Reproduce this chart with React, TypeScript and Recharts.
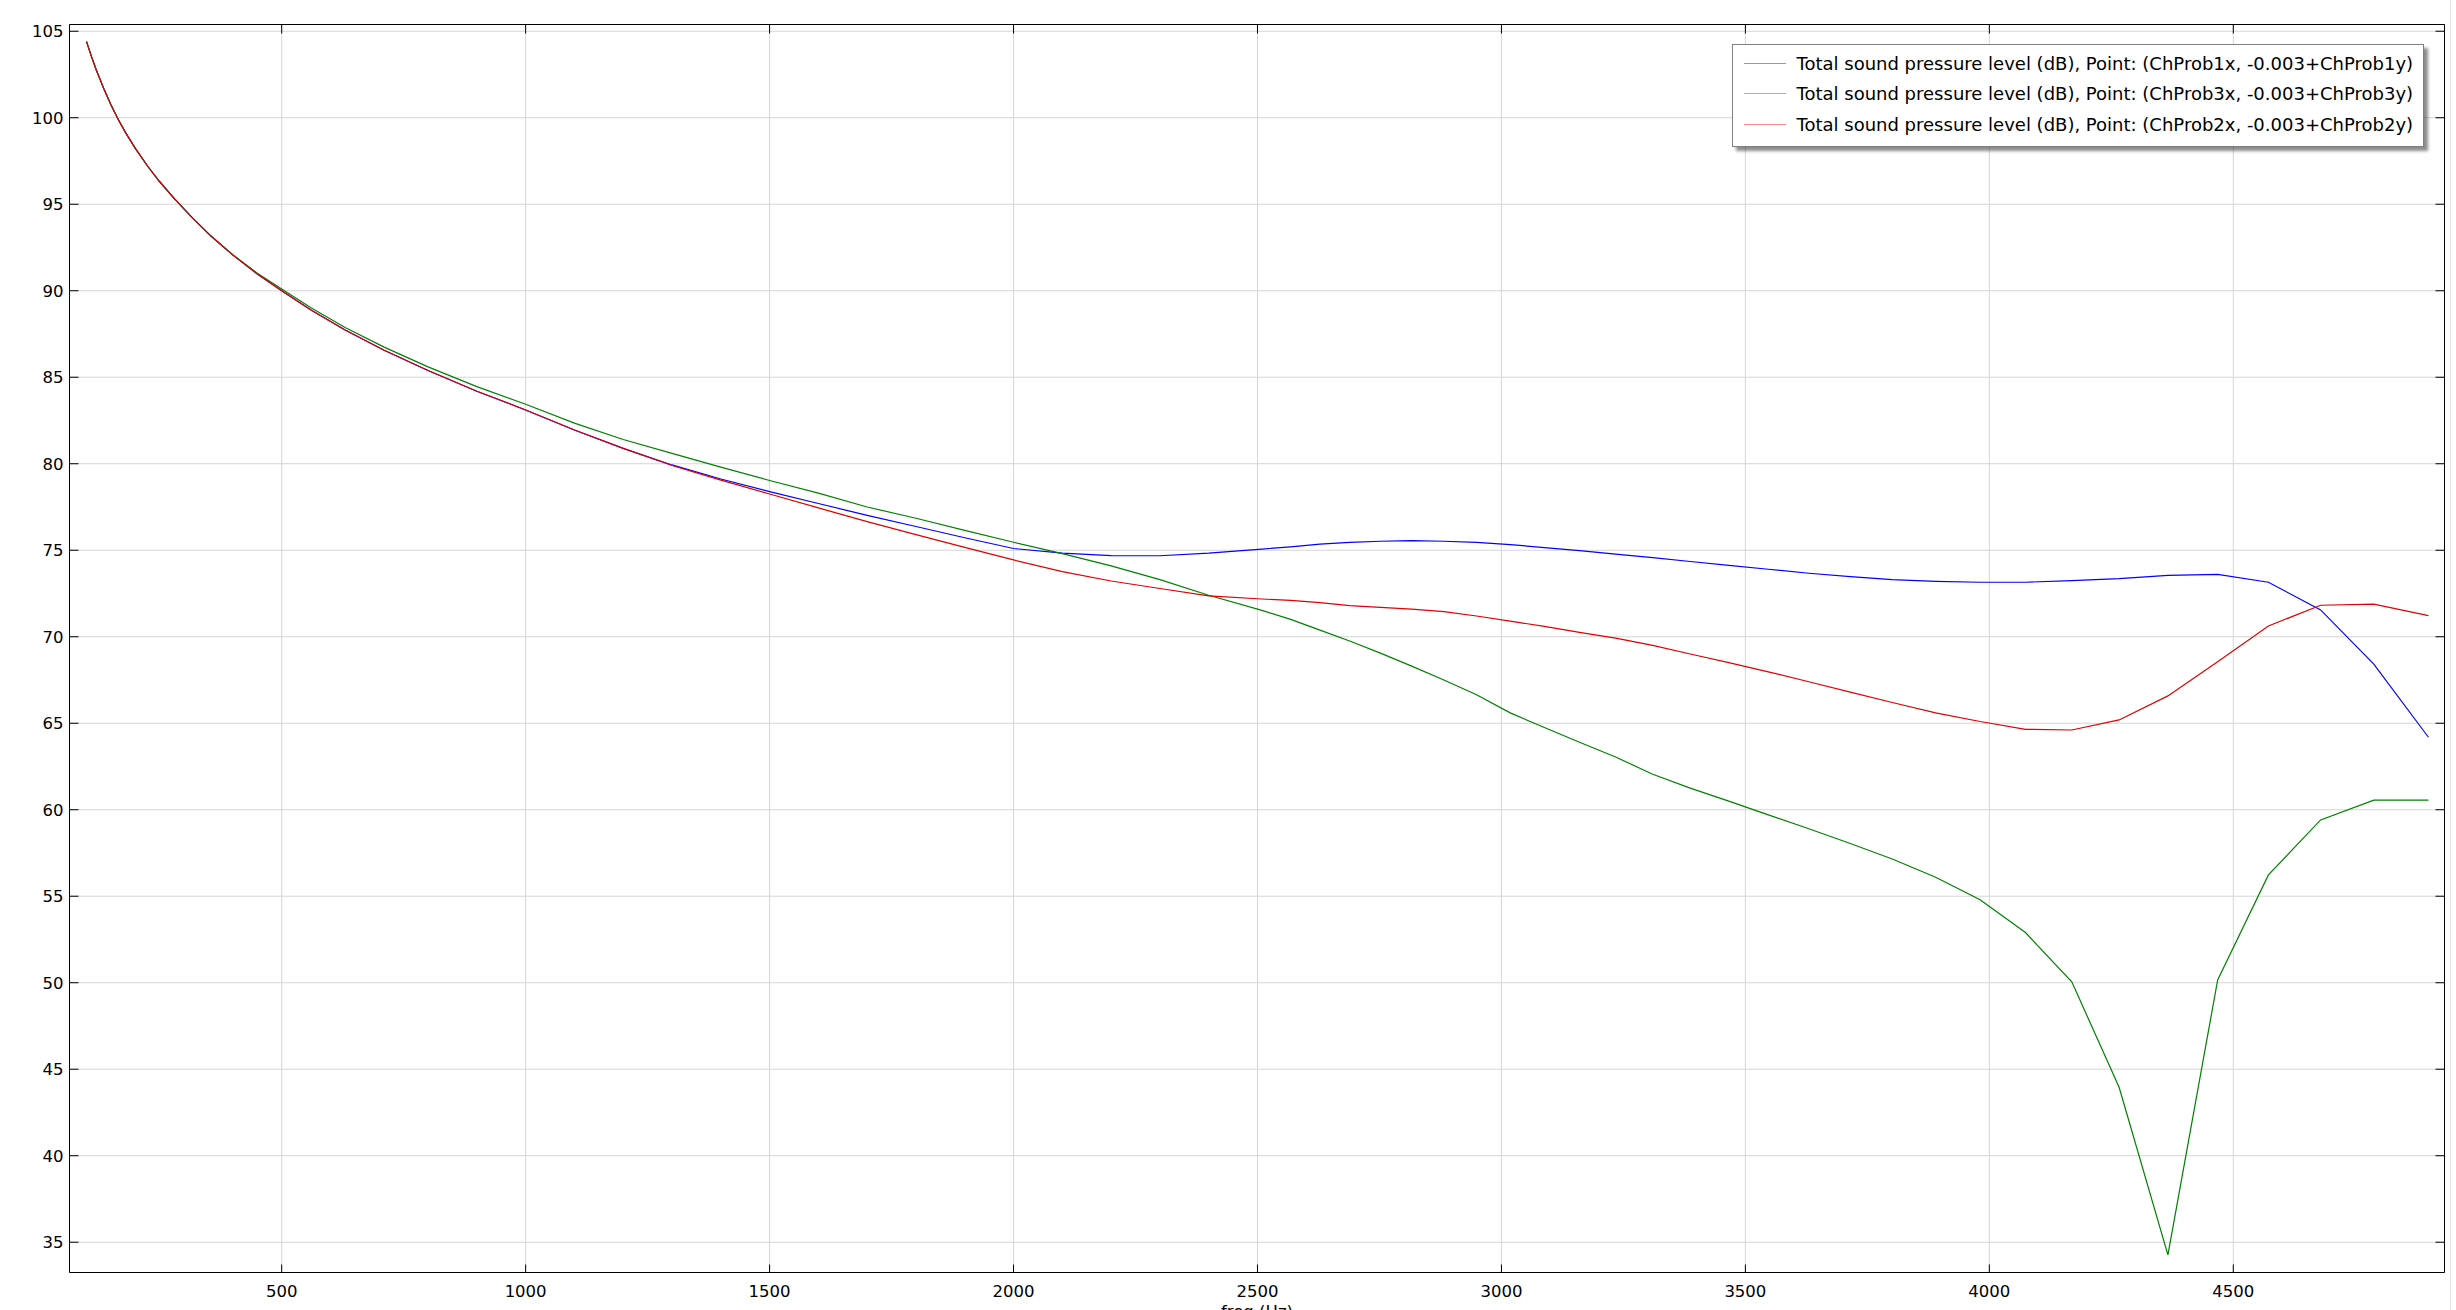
import { LineChart, Line, XAxis, YAxis, CartesianGrid, Legend } from 'recharts'

// frequencies (Hz), shared by all three probe series
const FREQ = [
    100, 110, 120, 135, 150, 165, 180, 200, 225, 250,
    280, 315, 355, 400, 450, 500, 560, 630, 710, 800,
    900, 1000, 1100, 1200, 1300, 1400, 1500, 1600, 1700, 1800,
    1900, 2000, 2100, 2200, 2300, 2400, 2509, 2568, 2628, 2689,
    2752, 2816, 2882, 2949, 3018, 3088, 3160, 3234, 3310, 3387,
    3466, 3547, 3630, 3715, 3801, 3890, 3981, 4074, 4169, 4266,
    4366, 4468, 4572, 4679, 4788, 4900
]

// ChProb1 (blue)
const SPL_PROB1 = [
    104.4, 103.55, 102.76, 101.7, 100.75, 99.9, 99.14, 98.23, 97.21, 96.3,
    95.32, 94.27, 93.16, 92.06, 90.97, 90.0, 88.89, 87.73, 86.56, 85.39,
    84.19, 83.11, 81.95, 80.89, 79.93, 79.12, 78.39, 77.7, 77.02, 76.37,
    75.72, 75.1, 74.83, 74.69, 74.68, 74.83, 75.07, 75.2, 75.35, 75.45,
    75.52, 75.55, 75.52, 75.45, 75.33, 75.15, 74.98, 74.78, 74.57, 74.35,
    74.12, 73.9, 73.67, 73.47, 73.3, 73.2, 73.15, 73.15, 73.24, 73.36,
    73.55, 73.61, 73.15, 71.55, 68.42, 64.19
]

// ChProb3 (green)
const SPL_PROB3 = [
    104.4, 103.55, 102.76, 101.7, 100.75, 99.9, 99.14, 98.23, 97.21, 96.3,
    95.32, 94.27, 93.16, 92.08, 91.01, 90.1, 89.02, 87.88, 86.74, 85.6,
    84.46, 83.44, 82.35, 81.4, 80.6, 79.8, 79.03, 78.3, 77.5, 76.85,
    76.15, 75.46, 74.8, 74.1, 73.3, 72.4, 71.52, 71.0, 70.38, 69.75,
    69.05, 68.3, 67.5, 66.65, 65.6, 64.75, 63.9, 63.05, 62.05, 61.25,
    60.5, 59.7, 58.9, 58.05, 57.15, 56.1, 54.8, 52.9, 50.05, 43.96,
    34.27, 50.16, 56.23, 59.41, 60.55, 60.55
]

// ChProb2 (red)
const SPL_PROB2 = [
    104.4, 103.55, 102.76, 101.7, 100.75, 99.9, 99.14, 98.23, 97.21, 96.3,
    95.32, 94.27, 93.16, 92.06, 90.97, 90.0, 88.89, 87.73, 86.56, 85.39,
    84.19, 83.11, 81.95, 80.89, 79.9, 79.05, 78.25, 77.45, 76.65, 75.9,
    75.17, 74.44, 73.76, 73.22, 72.79, 72.36, 72.18, 72.1, 71.97, 71.8,
    71.7, 71.6, 71.45, 71.2, 70.9, 70.6, 70.25, 69.92, 69.5, 69.0,
    68.5, 67.97, 67.4, 66.8, 66.2, 65.6, 65.1, 64.65, 64.61, 65.19,
    66.58, 68.56, 70.62, 71.82, 71.88, 71.22
]

const X_TICKS = [500, 1000, 1500, 2000, 2500, 3000, 3500, 4000, 4500]
const Y_TICKS = [35, 40, 45, 50, 55, 60, 65, 70, 75, 80, 85, 90, 95, 100, 105]

const SERIES = [
    { key: 'prob1', name: 'Total sound pressure level (dB), Point: (ChProb1x, -0.003+ChProb1y)', color: '#0000ff' },
    { key: 'prob3', name: 'Total sound pressure level (dB), Point: (ChProb3x, -0.003+ChProb3y)', color: '#008000' },
    { key: 'prob2', name: 'Total sound pressure level (dB), Point: (ChProb2x, -0.003+ChProb2y)', color: '#e00000' }
]

const rows = FREQ.map((freq, i) => ({
    freq,
    prob1: SPL_PROB1[i],
    prob3: SPL_PROB3[i],
    prob2: SPL_PROB2[i]
}))

const FONT = '"DejaVu Sans", Verdana, sans-serif'
const FONT_SIZE = 16.5
const LEGEND_FONT_SIZE = 18
const TICK_LEN = 9
const Y_GAP = 6
const X_GAP = 13
const X_DOMAIN = [65.1, 4932.9]
const Y_DOMAIN = [33.25, 105.39]

// ticks point inward from the frame, labels sit outside
function LeftTick({ x, y, payload }: any) {
    const edge = x + Y_GAP
    return (
        <g>
            <line x1={edge} x2={edge + TICK_LEN} y1={y} y2={y} stroke="#000" />
            <text x={x} y={y} dy="0.36em" textAnchor="end" fill="#000" fontSize={FONT_SIZE} fontFamily={FONT}>
                {payload.value}
            </text>
        </g>
    )
}

function BottomTick({ x, y, payload }: any) {
    const edge = y - X_GAP
    return (
        <g>
            <line x1={x} x2={x} y1={edge} y2={edge - TICK_LEN + 1} stroke="#000" />
            <text x={x} y={y} dy="0.71em" textAnchor="middle" fill="#000" fontSize={FONT_SIZE} fontFamily={FONT}>
                {payload.value}
            </text>
        </g>
    )
}

function TopTick({ x, y }: any) {
    return <line x1={x} x2={x} y1={y} y2={y + TICK_LEN} stroke="#000" />
}

function RightTick({ x, y }: any) {
    return <line x1={x - TICK_LEN} x2={x} y1={y} y2={y} stroke="#000" />
}

function LegendBox({ payload }: any) {
    // keep the plot order, not the alphabetical one
    const entries = SERIES.map(s => (payload || []).find((p: any) => p.dataKey === s.key)).filter(Boolean)
    return (
        <div style={{
            boxSizing: 'border-box', width: 692, height: 103, padding: '3px 0 0 0',
            background: '#fff', border: '1px solid #808080', boxShadow: '4px 4px 3px rgba(0,0,0,0.45)',
            fontFamily: FONT, fontSize: LEGEND_FONT_SIZE, color: '#000'
        }}>
            {entries.map((entry: any) => (
                <div key={entry.value} style={{ display: 'flex', alignItems: 'center', height: 30.5 }}>
                    <span style={{ width: 42, height: 1, marginLeft: 11, marginRight: 10.5, background: entry.color, opacity: 0.45 }} />
                    <span style={{ whiteSpace: 'nowrap' }}>{entry.value}</span>
                </div>
            ))}
        </div>
    )
}

export default function App() {
    return (
        <div style={{ position: 'absolute', left: 0, top: 0, width: 2456, height: 1310, background: '#fff' }}>
            <LineChart
                width={2456}
                height={1310}
                data={rows}
                margin={{ top: 14.5, right: 0, bottom: 0, left: 0 }}
            >
                <CartesianGrid stroke="#d6d6d6" strokeWidth={1} />
                <XAxis
                    dataKey="freq"
                    type="number"
                    domain={X_DOMAIN}
                    ticks={X_TICKS}
                    interval={0}
                    height={37.5}
                    tickLine={false}
                    tickSize={0}
                    tickMargin={X_GAP}
                    tick={<BottomTick />}
                    axisLine={{ stroke: '#000' }}
                    allowDataOverflow
                    label={{ value: 'freq (Hz)', position: 'insideBottom', offset: -7, fill: '#000', fontSize: FONT_SIZE, fontFamily: FONT }}
                />
                <XAxis
                    xAxisId="top"
                    orientation="top"
                    dataKey="freq"
                    type="number"
                    domain={X_DOMAIN}
                    ticks={X_TICKS}
                    interval={0}
                    height={10}
                    tickLine={false}
                    tickSize={0}
                    tickMargin={0}
                    tick={<TopTick />}
                    axisLine={{ stroke: '#000' }}
                    allowDataOverflow
                />
                <YAxis
                    type="number"
                    domain={Y_DOMAIN}
                    ticks={Y_TICKS}
                    interval={0}
                    width={69.5}
                    tickLine={false}
                    tickSize={0}
                    tickMargin={Y_GAP}
                    tick={<LeftTick />}
                    axisLine={{ stroke: '#000' }}
                    allowDataOverflow
                />
                <YAxis
                    yAxisId="right"
                    orientation="right"
                    type="number"
                    domain={Y_DOMAIN}
                    ticks={Y_TICKS}
                    interval={0}
                    width={11.5}
                    tickLine={false}
                    tickSize={0}
                    tickMargin={0}
                    tick={<RightTick />}
                    axisLine={{ stroke: '#000' }}
                    allowDataOverflow
                />
                <Legend
                    layout="vertical"
                    align="center"
                    verticalAlign="middle"
                    content={<LegendBox />}
                    wrapperStyle={{ left: 1732, top: 44, width: 692, height: 103 }}
                />
                {SERIES.map(s => (
                    <Line
                        key={s.key}
                        dataKey={s.key}
                        name={s.name}
                        stroke={s.color}
                        strokeWidth={1.2}
                        type="linear"
                        dot={false}
                        activeDot={false}
                        isAnimationActive={false}
                    />
                ))}
            </LineChart>
            <div style={{ position: 'absolute', left: 2450, top: 0, width: 1, height: 1310, background: '#e2e2e2' }} />
        </div>
    )
}
